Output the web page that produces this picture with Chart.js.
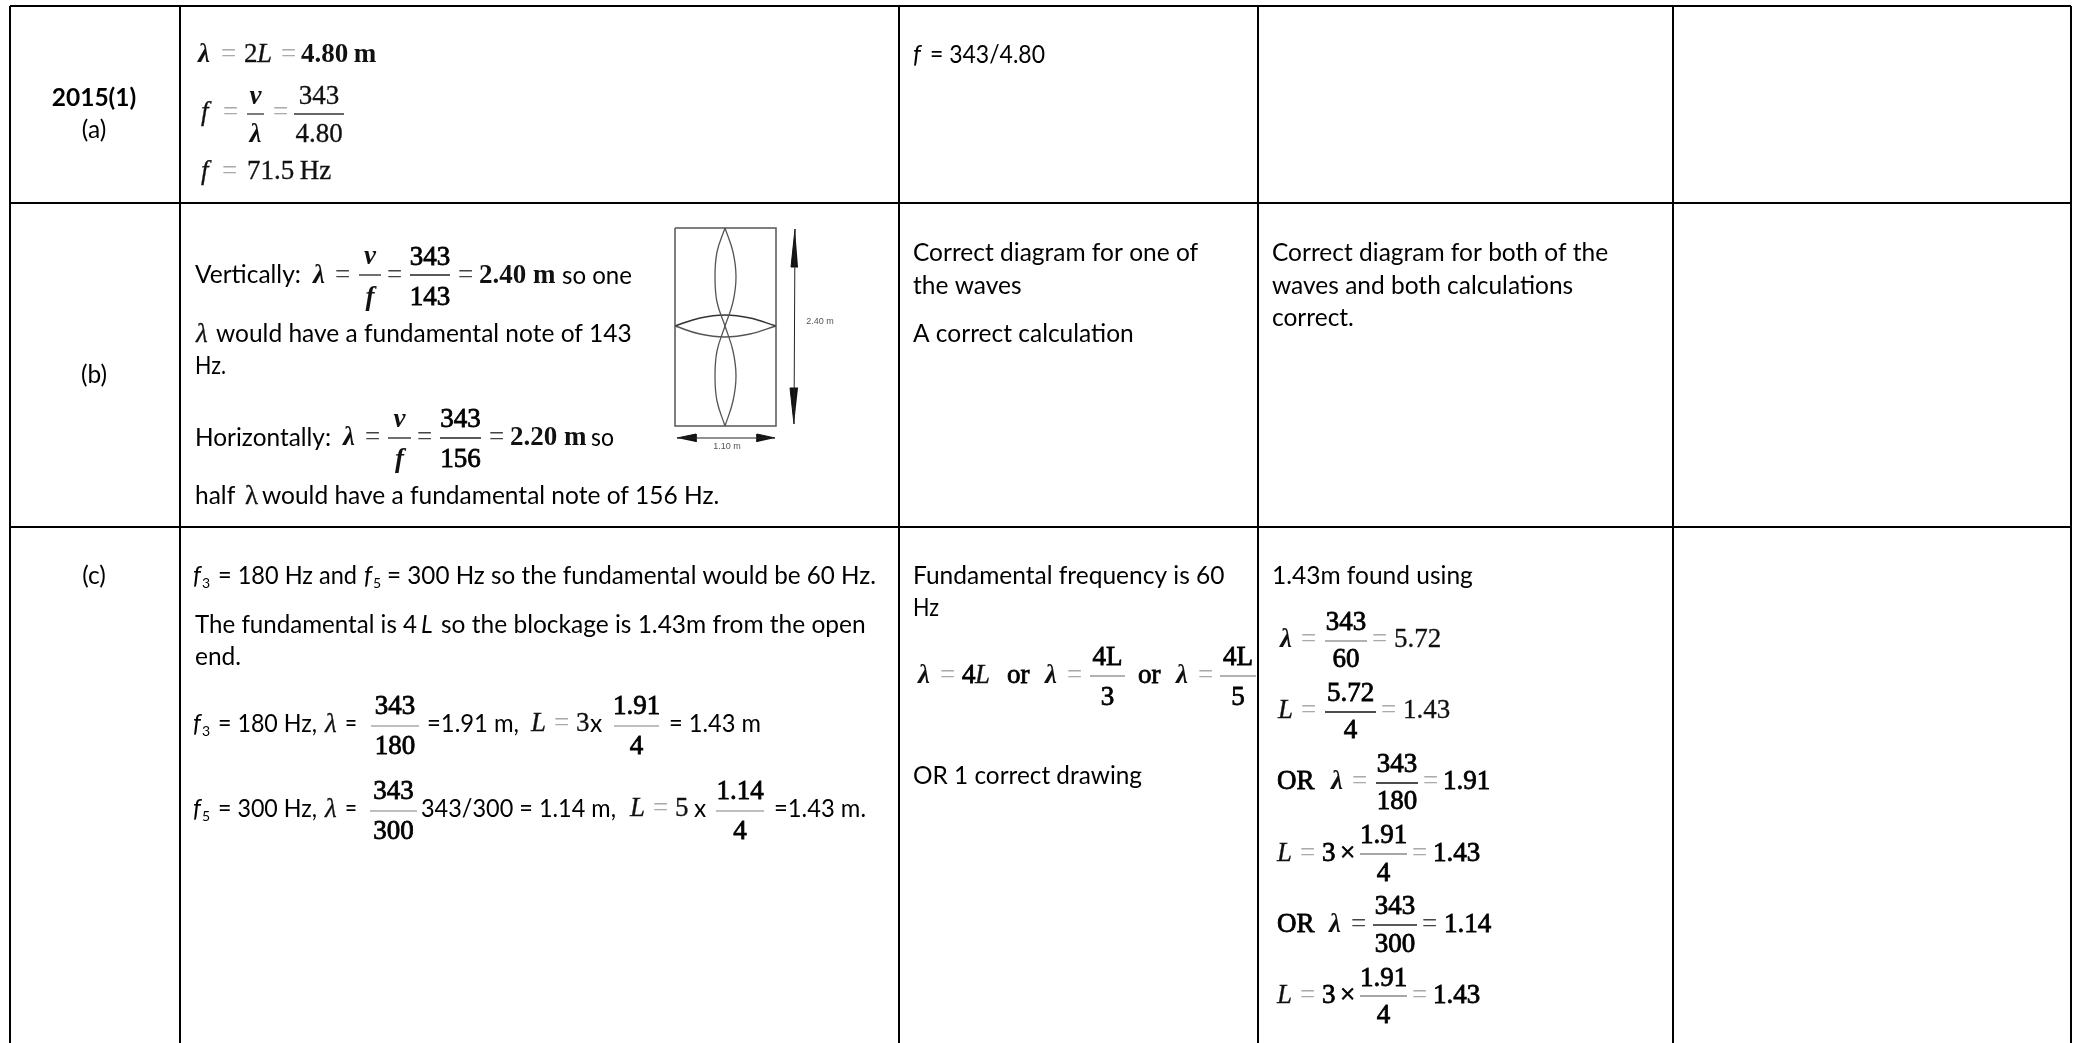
<!DOCTYPE html>
<html>
<head>
<meta charset="utf-8">
<style>
  html, body { margin: 0; padding: 0; background: #fff; overflow: hidden; }
  canvas { display: block; }
</style>
<script src="https://cdn.jsdelivr.net/npm/chart.js@4"></script>
</head>
<body>
<canvas id="tableChart" width="2080" height="1043"></canvas>
<script>
// table rules
const columnEdges = [10, 180, 899, 1258, 1673, 2071];
const rowEdges = [6, 203, 527];

// plain text: x, baseline, string, right end
const bodyFont = 'Lato, "Open Sans", sans-serif';
const serifFont = '"Liberation Serif", serif';
const bodySize = 24.5;
const bodyText = [
  [930, 63, '= 343/4.80', 1045],
  [195, 283, 'Vertically:', 303],
  [562, 284, 'so one', 632],
  [216, 342, 'would have a fundamental note of 143', 634],
  [195, 374, 'Hz.', 226],
  [195, 446, 'Horizontally:', 331],
  [591, 446, 'so', 614],
  [195, 504, 'half', 238],
  [262, 504, 'would have a fundamental note of 156 Hz.', 722],
  [218, 584, '= 180 Hz and', 357],
  [387, 584, '= 300 Hz so the fundamental would be 60 Hz.', 876],
  [195, 633, 'The fundamental is 4', 417],
  [441, 633, 'so the blockage is 1.43m from the open', 867],
  [195, 665, 'end.', 242],
  [218, 732, '= 180 Hz,', 317],
  [345, 732, '=', 357],
  [427, 732, '=1.91 m,', 519],
  [669, 732, '= 1.43 m', 761],
  [218, 817, '= 300 Hz,', 317],
  [345, 817, '=', 357],
  [421, 817, '343/300 = 1.14 m,', 616],
  [774, 817, '=1.43 m.', 866],
  [590, 732, 'x', 603],
  [694, 817, 'x', 707],
  [913, 261, 'Correct diagram for one of', 1202],
  [913, 294, 'the waves', 1023],
  [913, 342, 'A correct calculation', 1135],
  [1272, 261, 'Correct diagram for both of the', 1613],
  [1272, 294, 'waves and both calculations', 1580],
  [1272, 326, 'correct.', 1358],
  [913, 584, 'Fundamental frequency is 60', 1228],
  [913, 616, 'Hz', 939],
  [913, 784, 'OR 1 correct drawing', 1142],
  [1272, 584, '1.43m found using', 1476]
];
const centeredText = [
  [94, 106, '2015(1)', 'bold'],
  [94, 138, '(a)', 'normal'],
  [94, 383, '(b)', 'normal'],
  [94, 584, '(c)', 'normal']
];
const italicText = [
  [913, 63, 'f'], [193, 584, 'f'], [364, 584, 'f'], [421, 633, 'L'], [193, 732, 'f'], [193, 817, 'f']
];
const subscripts = [
  [202, 588, '3'], [373, 588, '5'], [202, 736, '3'], [202, 821, '5']
];

// maths: x, baseline, string, style
const mathText = [
  [198, 62, 'λ', 'bi'], [221, 62, '=', 'g'], [244, 62, '2', 'n'], [257, 62, 'L', 'i'], [281, 62, '=', 'g'], [301, 62, '4.80\u2009m', 'b'],
  [201, 120, 'f', 'i'], [223, 120, '=', 'g'], [273, 120, '=', 'g'],
  [201, 179, 'f', 'i'], [222, 179, '=', 'g'], [247, 179, '71.5\u2009Hz', 'n'],
  [313, 283, 'λ', 'bi'], [335, 283, '=', 'd'], [387, 283, '=', 'd'], [458, 283, '=', 'd'], [479, 283, '2.40 m', 'b'],
  [196, 342, 'λ', 'i'],
  [343, 445, 'λ', 'bi'], [365, 445, '=', 'd'], [417, 445, '=', 'd'], [489, 445, '=', 'd'], [510, 445, '2.20 m', 'b'],
  [245, 504, 'λ', 'n'],
  [325, 732, 'λ', 'i'], [531, 731, 'L', 'i'], [554, 731, '=', 'g'], [576, 731, '3', 'n'],
  [325, 817, 'λ', 'i'], [630, 816, 'L', 'i'], [653, 816, '=', 'g'], [675, 816, '5', 'n'],
  [918, 683, 'λ', 'bi'], [940, 683, '=', 'g'], [962, 683, '4', 's'], [975, 683, 'L', 'i'], [1007, 683, 'or', 's'],
  [1045, 683, 'λ', 'bi'], [1067, 683, '=', 'g'], [1138, 683, 'or', 's'], [1176, 683, 'λ', 'bi'], [1198, 683, '=', 'g'],
  [1280, 647, 'λ', 'bi'], [1301, 647, '=', 'g'], [1372, 647, '=', 'g'], [1394, 647, '5.72', 'n'],
  [1278, 718, 'L', 'i'], [1301, 718, '=', 'g'], [1381, 718, '=', 'g'], [1403, 718, '1.43', 'n'],
  [1277, 789, 'OR', 's'], [1331, 789, 'λ', 'bi'], [1352, 789, '=', 'g'], [1423, 789, '=', 'g'], [1443, 789, '1.91', 's'],
  [1277, 861, 'L', 'i'], [1300, 861, '=', 'g'], [1322, 861, '3', 's'], [1340, 861, '×', 's'], [1412, 861, '=', 'g'], [1433, 861, '1.43', 's'],
  [1277, 932, 'OR', 's'], [1329, 932, 'λ', 'bi'], [1351, 932, '=', 'd'], [1422, 932, '=', 'd'], [1444, 932, '1.14', 's'],
  [1277, 1003, 'L', 'i'], [1300, 1003, '=', 'g'], [1322, 1003, '3', 's'], [1340, 1003, '×', 's'], [1412, 1003, '=', 'g'], [1433, 1003, '1.43', 's']
];

// fractions: left, right, bar y, numerator, numerator baseline, denominator, denominator baseline, style, bar colour
const fractions = [
  [247, 264, 114, 'v', 104, 'λ', 142, 'bi', '#333'],
  [294, 344, 114, '343', 104, '4.80', 142, 'n', '#333'],
  [359, 381, 275, 'v', 264, 'f', 305, 'bi', '#222'],
  [410, 450, 275, '343', 265, '143', 305, 's', '#222'],
  [388, 411, 438, 'v', 427, 'f', 467, 'bi', '#222'],
  [440, 481, 438, '343', 427, '156', 467, 's', '#222'],
  [371, 419, 726, '343', 714, '180', 754, 's', '#aaa'],
  [614, 659, 726, '1.91', 714, '4', 754, 's', '#aaa'],
  [370, 417, 811, '343', 799, '300', 839, 's', '#aaa'],
  [716, 764, 811, '1.14', 799, '4', 839, 's', '#aaa'],
  [1090, 1125, 676, '4L', 665, '3', 705, 's', '#999'],
  [1220, 1256, 676, '4L', 665, '5', 705, 's', '#999'],
  [1325, 1367, 641, '343', 630, '60', 667, 's', '#999'],
  [1325, 1376, 712, '5.72', 701, '4', 738, 's', '#111'],
  [1376, 1418, 783, '343', 772, '180', 809, 's', '#111'],
  [1360, 1407, 854, '1.91', 843, '4', 881, 's', '#888'],
  [1373, 1417, 925, '343', 914, '300', 952, 's', '#222'],
  [1360, 1407, 996, '1.91', 986, '4', 1023, 's', '#888']
];

// standing wave sketch
const boxX = [675, 776, 776, 675, 675];
const boxY = [228, 228, 426, 426, 228];
const upperLeftX = [725, 717, 715, 717, 725];
const upperRightX = [725, 733, 736, 733, 725];
const upperY = [228, 252, 277, 302, 326];
const lowerY = [326, 351, 376, 401, 426];
const crossX = [675, 700, 725, 750, 776];
const crossTopY = [326, 318, 315, 318, 326];
const crossBottomY = [326, 334, 337, 334, 326];
const arrowV = [[795, 229], [794, 424]];
const arrowH = [[677, 438], [775, 438]];
const arrowHeads = [
  [[795, 229], [791, 267], [798, 267]],
  [[794, 424], [790, 388], [798, 388]],
  [[677, 438], [696, 434], [696, 442]],
  [[775, 438], [757, 434], [757, 442]]
];
const sketchLabels = [[820, 322, '2.40 m'], [727, 447, '1.10 m']];

const zip = (xs, ys) => xs.map((x, i) => ({ x: x, y: ys[i] }));
const line = (data, color, width, tension) => ({
  data: data,
  showLine: true,
  pointRadius: 0,
  borderColor: color,
  borderWidth: width,
  tension: tension || 0,
  fill: false
});

const datasets = [
  line(zip(boxX, boxY), '#555', 1.5),
  line(zip(upperLeftX, upperY), '#555', 1.3, 0.4),
  line(zip(upperRightX, upperY), '#555', 1.3, 0.4),
  line(zip(upperLeftX, lowerY), '#555', 1.3, 0.4),
  line(zip(upperRightX, lowerY), '#555', 1.3, 0.4),
  line(zip(crossX, crossTopY), '#333', 1.5, 0.4),
  line(zip(crossX, crossBottomY), '#555', 1.5, 0.4),
  line(arrowV.map(p => ({ x: p[0], y: p[1] })), '#222', 1),
  line(arrowH.map(p => ({ x: p[0], y: p[1] })), '#222', 1)
];
arrowHeads.forEach(head => {
  const d = line(head.map(p => ({ x: p[0], y: p[1] })), '#111', 1);
  d.fill = 'shape';
  d.backgroundColor = '#111';
  datasets.push(d);
});
fractions.forEach(f => {
  datasets.push(line([{ x: f[0], y: f[2] }, { x: f[1], y: f[2] }], f[8], 1.3));
});

// s = regular with a thin outline, the picture's maths is heavier than regular but lighter than bold
const mathStyles = {
  n: { font: '27px ' + serifFont, color: '#111', stroke: 0.3 },
  s: { font: '27px ' + serifFont, color: '#000', stroke: 0.8 },
  b: { font: 'bold 27px ' + serifFont, color: '#111', stroke: 0 },
  i: { font: 'italic 27px ' + serifFont, color: '#111', stroke: 0.3 },
  bi: { font: 'italic bold 27px ' + serifFont, color: '#111', stroke: 0 },
  g: { font: '27px ' + serifFont, color: '#aaa', stroke: 0 },
  d: { font: '27px ' + serifFont, color: '#444', stroke: 0 }
};

const tableText = {
  id: 'tableText',
  afterDraw(chart) {
    const { ctx, scales: { x, y } } = chart;
    const px = v => x.getPixelForValue(v);
    const py = v => y.getPixelForValue(v);
    const drawMath = (str, xPos, yPos, key) => {
      const s = mathStyles[key];
      ctx.font = s.font;
      ctx.fillStyle = s.color;
      ctx.fillText(str, xPos, yPos);
      if (s.stroke) {
        ctx.strokeStyle = s.color;
        ctx.lineWidth = s.stroke;
        ctx.strokeText(str, xPos, yPos);
      }
    };
    ctx.save();
    ctx.textBaseline = 'alphabetic';
    ctx.textAlign = 'left';
    ctx.fillStyle = '#000';

    ctx.font = bodySize + 'px ' + bodyFont;
    bodyText.forEach(t => ctx.fillText(t[2], px(t[0]), py(t[1]), px(t[3]) - px(t[0])));
    ctx.font = 'italic ' + bodySize + 'px ' + bodyFont;
    italicText.forEach(t => ctx.fillText(t[2], px(t[0]), py(t[1])));
    ctx.font = '14px ' + bodyFont;
    subscripts.forEach(t => ctx.fillText(t[2], px(t[0]), py(t[1])));

    mathText.forEach(t => drawMath(t[2], px(t[0]), py(t[1]), t[3]));

    ctx.textAlign = 'center';
    ctx.fillStyle = '#000';
    centeredText.forEach(t => {
      ctx.font = t[3] + ' ' + bodySize + 'px ' + bodyFont;
      ctx.fillText(t[2], px(t[0]), py(t[1]));
    });
    fractions.forEach(f => {
      const mid = (f[0] + f[1]) / 2;
      drawMath(f[3], px(mid), py(f[4]), f[7]);
      drawMath(f[5], px(mid), py(f[6]), f[7]);
    });

    ctx.font = '9px "Liberation Sans", sans-serif';
    ctx.fillStyle = '#555';
    ctx.textBaseline = 'middle';
    sketchLabels.forEach(t => ctx.fillText(t[2], px(t[0]), py(t[1])));
    ctx.restore();
  }
};

const edgeAxis = (min, max, edges, reverse) => ({
  type: 'linear',
  min: min,
  max: max,
  reverse: reverse,
  afterBuildTicks: scale => { scale.ticks = edges.map(v => ({ value: v })); },
  ticks: { display: false, autoSkip: false },
  border: { display: false },
  grid: { color: '#000', lineWidth: 2, drawTicks: false }
});

new Chart(document.getElementById('tableChart'), {
  type: 'scatter',
  data: { datasets: datasets },
  plugins: [tableText],
  options: {
    responsive: false,
    animation: false,
    layout: { padding: { left: 10, top: 6, right: 9, bottom: 0 } },
    plugins: { legend: { display: false }, title: { display: false }, tooltip: { enabled: false } },
    scales: {
      x: edgeAxis(10, 2071, columnEdges, false),
      y: edgeAxis(6, 1043, rowEdges, true)
    }
  }
});
</script>
</body>
</html>
